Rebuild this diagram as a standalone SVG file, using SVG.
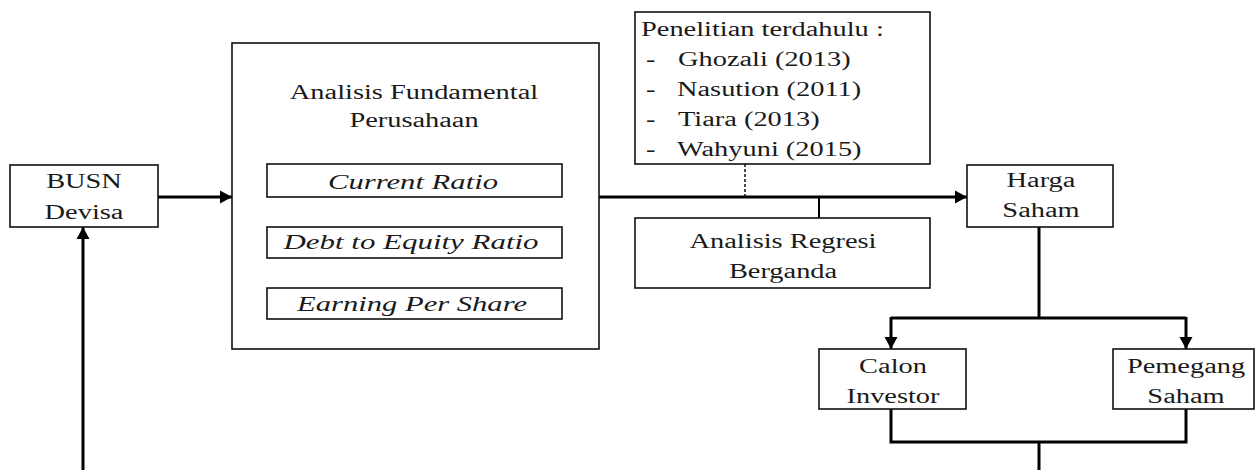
<svg xmlns="http://www.w3.org/2000/svg" width="1256" height="470" viewBox="0 0 1256 470">
<defs>
<marker id="ah" markerUnits="userSpaceOnUse" markerWidth="13" markerHeight="14" refX="12" refY="7" orient="auto">
<path d="M0,0.5 L12,7 L0,13.5 z" fill="#000"/>
</marker>
<style>
.box{fill:#fff;stroke:#111;stroke-width:1.6}
.t{font-family:"Liberation Serif","Times New Roman",serif;font-size:20px;fill:#1a1a1a}
.m{text-anchor:middle}
.i{font-style:italic;font-size:21px}
.ln{fill:none;stroke:#000;stroke-width:3}
.dash{fill:none;stroke:#111;stroke-width:1.5;stroke-dasharray:3 2}
</style>
</defs>
<rect width="1256" height="470" fill="#fff"/>

<g id="connectors">
<line class="ln" x1="158" y1="197" x2="232" y2="197" marker-end="url(#ah)"/>
<line class="ln" x1="599" y1="197" x2="967" y2="197" marker-end="url(#ah)"/>
<line class="dash" x1="745" y1="164" x2="745" y2="197"/>
<line x1="819" y1="197" x2="819" y2="218" stroke="#000" stroke-width="2"/>
<polyline class="ln" points="1039,227 1039,318"/>
<polyline class="ln" points="891,318 1186,318"/>
<line class="ln" x1="891" y1="317" x2="891" y2="349" marker-end="url(#ah)"/>
<line class="ln" x1="1186" y1="317" x2="1186" y2="349" marker-end="url(#ah)"/>
<polyline class="ln" points="891,409 891,442 1186,442 1186,409"/>
<line class="ln" x1="1039" y1="442" x2="1039" y2="470"/>
<line class="ln" x1="83" y1="470" x2="83" y2="227" marker-end="url(#ah)"/>
</g>

<g id="busn">
<rect class="box" x="10" y="165" width="148" height="62"/>
<text class="t m" transform="translate(84,188) scale(1.42,1)">BUSN</text>
<text class="t m" transform="translate(84,219) scale(1.42,1)">Devisa</text>
</g>

<g id="analisis-fundamental">
<rect class="box" x="232" y="43" width="367" height="306"/>
<text class="t m" transform="translate(414,99) scale(1.42,1)">Analisis Fundamental</text>
<text class="t m" transform="translate(414,127) scale(1.42,1)">Perusahaan</text>
</g>

<g id="current-ratio">
<rect class="box" x="267" y="164" width="295" height="33"/>
<text class="t m i" transform="translate(413,189) scale(1.42,1)" textLength="119.7" lengthAdjust="spacingAndGlyphs">Current Ratio</text>
</g>

<g id="der">
<rect class="box" x="267" y="227" width="295" height="31"/>
<text class="t m i" transform="translate(411,249) scale(1.42,1)" textLength="179.6" lengthAdjust="spacingAndGlyphs">Debt to Equity Ratio</text>
</g>

<g id="eps">
<rect class="box" x="267" y="288" width="295" height="31"/>
<text class="t m i" transform="translate(412,311) scale(1.42,1)" textLength="162" lengthAdjust="spacingAndGlyphs">Earning Per Share</text>
</g>

<g id="penelitian">
<rect class="box" x="635" y="12" width="295" height="152"/>
<text class="t" transform="translate(641,36) scale(1.42,1)">Penelitian terdahulu :</text>
<text class="t" transform="translate(646,66) scale(1.42,1)">-</text>
<text class="t" transform="translate(678,66) scale(1.42,1)">Ghozali (2013)</text>
<text class="t" transform="translate(646,96) scale(1.42,1)">-</text>
<text class="t" transform="translate(677,96) scale(1.42,1)">Nasution (2011)</text>
<text class="t" transform="translate(646,126) scale(1.42,1)">-</text>
<text class="t" transform="translate(678,126) scale(1.42,1)">Tiara (2013)</text>
<text class="t" transform="translate(646,156) scale(1.42,1)">-</text>
<text class="t" transform="translate(677,156) scale(1.42,1)">Wahyuni (2015)</text>
</g>

<g id="regresi">
<rect class="box" x="635" y="218" width="295" height="70"/>
<text class="t m" transform="translate(783,248) scale(1.42,1)">Analisis Regresi</text>
<text class="t m" transform="translate(783,278) scale(1.42,1)">Berganda</text>
</g>

<g id="harga-saham">
<rect class="box" x="967" y="165" width="146" height="62"/>
<text class="t m" transform="translate(1041,187) scale(1.42,1)">Harga</text>
<text class="t m" transform="translate(1041,217) scale(1.42,1)">Saham</text>
</g>

<g id="calon-investor">
<rect class="box" x="819" y="349" width="147" height="60"/>
<text class="t m" transform="translate(893,373) scale(1.42,1)">Calon</text>
<text class="t m" transform="translate(893,403) scale(1.42,1)">Investor</text>
</g>

<g id="pemegang-saham">
<rect class="box" x="1113" y="349" width="141" height="60"/>
<text class="t m" transform="translate(1186,373) scale(1.42,1)">Pemegang</text>
<text class="t m" transform="translate(1186,403) scale(1.42,1)">Saham</text>
</g>
</svg>
